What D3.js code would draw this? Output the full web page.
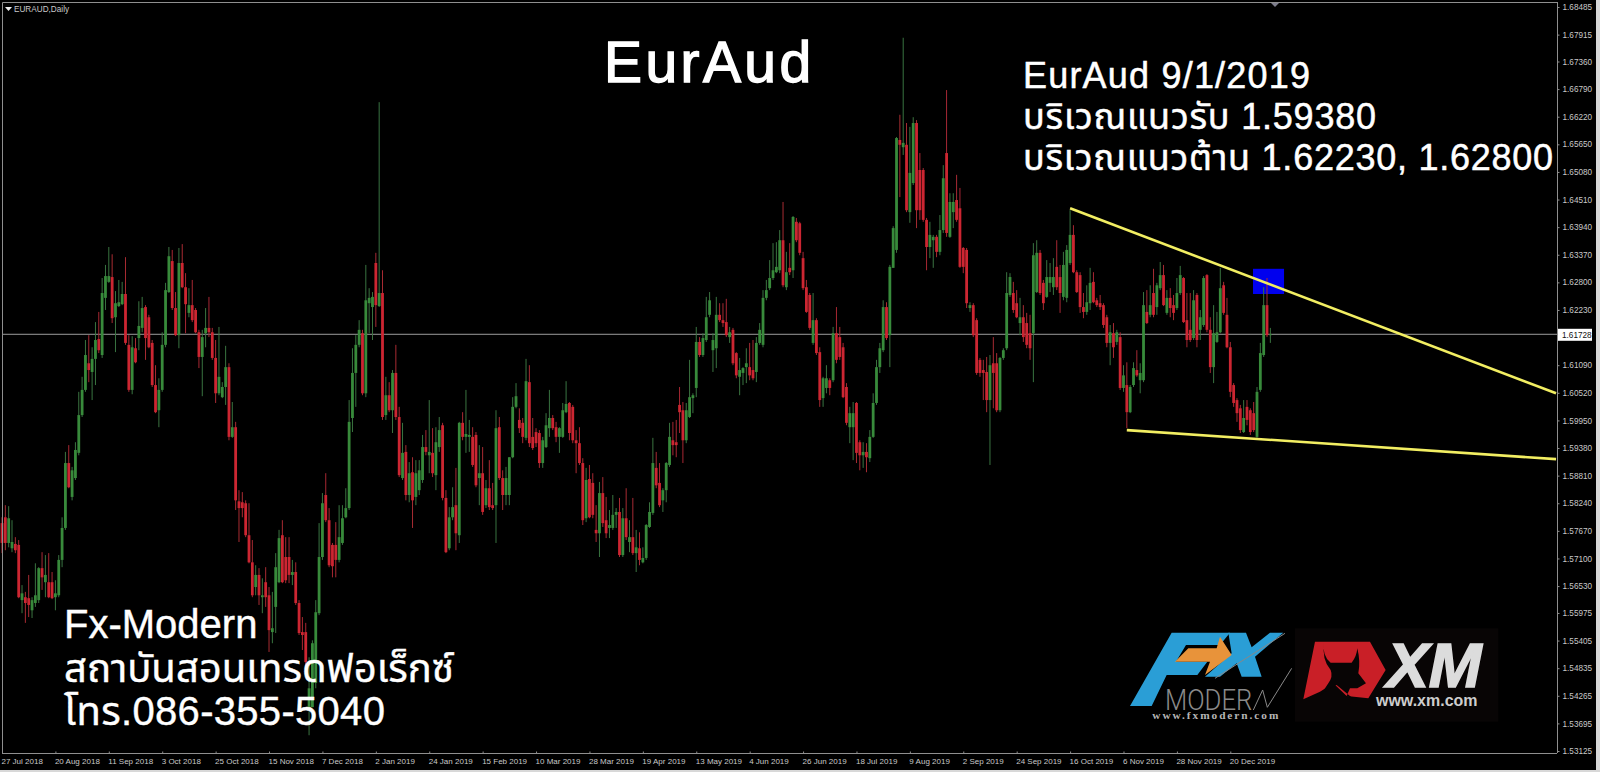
<!DOCTYPE html>
<html><head><meta charset="utf-8">
<script src="https://cdn.jsdelivr.net/npm/d3@7"></script>
<style>
html,body{margin:0;padding:0;background:#000;overflow:hidden}
svg{display:block}
text{font-family:"Liberation Sans",Arial,"Noto Sans Thai","Noto Sans",sans-serif}
</style></head><body>
<svg id="c" width="1600" height="772"></svg>
<script>
// Prices are stored in points of 0.0001
const POINT = 1e-4;
const highPts = [15795,15820,15818,15789,15754,15748,15655,15641,15676,15630,15700,15692,15723,15717,15721,15682,15665,15717,15795,15930,15944,15899,15950,16054,16085,16161,16171,16146,16198,16219,16289,16316,16353,16338,16262,16285,16281,16332,16171,16169,16165,16241,16250,16233,16213,16161,16109,16082,16177,16279,16353,16347,16260,16351,16359,16299,16268,16285,16227,16182,16182,16227,16250,16186,16161,16188,16074,16149,16113,16033,15992,15851,15847,15830,15824,15748,15696,15690,15669,15692,15651,15641,15721,15769,15789,15754,15754,15707,15702,15624,15589,15577,15506,15541,15624,15783,15845,15886,15814,15742,15785,15820,15820,15855,16037,16144,16171,16202,16182,16316,16268,16260,16341,16652,16305,16085,16074,16099,16151,16023,15990,15944,15909,15919,15913,15913,15965,15975,16037,15979,15981,16002,15990,15851,15816,15857,15897,15992,16012,16058,15996,15981,15971,15944,15940,15872,15913,15866,16016,16002,15892,15899,15919,16043,16072,16020,16000,16122,16109,16000,15979,15975,15961,16010,16058,16006,15992,15981,16031,16076,16033,16027,15975,15981,15917,15897,15903,15886,15820,15868,15878,15837,15810,15841,15814,15835,15814,15855,15789,15835,15769,15764,15733,15781,15826,15959,15930,15907,15855,15909,15990,15992,15996,16064,16033,16031,16120,16051,16188,16167,16175,16250,16260,16175,16250,16237,16237,16246,16188,16186,16136,16124,16105,16144,16155,16161,16167,16196,16264,16285,16326,16361,16363,16388,16446,16343,16361,16417,16413,16405,16343,16285,16258,16258,16206,16146,16085,16109,16082,16188,16229,16188,16155,16072,16023,16033,16033,15954,15950,15948,15975,16051,16120,16155,16243,16239,16316,16396,16580,16626,16785,16609,16601,16621,16615,16547,16516,16413,16405,16378,16378,16419,16522,16677,16464,16464,16502,16475,16353,16351,16239,16237,16206,16124,16120,16126,16130,16167,16134,16126,16144,16301,16299,16281,16264,16248,16233,16217,16213,16361,16367,16347,16285,16326,16320,16330,16367,16316,16343,16357,16429,16398,16305,16301,16258,16274,16310,16301,16248,16254,16237,16213,16192,16196,16182,16177,16109,16115,16068,16115,16140,16113,16260,16264,16274,16308,16279,16322,16316,16264,16268,16254,16289,16314,16291,16258,16258,16264,16258,16223,16293,16297,16208,16233,16219,16310,16281,16248,16157,16072,16041,16027,16037,16037,16020,16033,16064,16155,16270,16289,16186];
const lowPts = [15721,15727,15733,15723,15721,15628,15597,15577,15589,15587,15610,15618,15645,15630,15628,15626,15603,15630,15692,15769,15855,15830,15872,15923,16002,16054,16074,16037,16068,16134,16124,16223,16279,16196,16136,16229,16233,16151,16054,16049,16113,16140,16177,16120,16144,16064,16010,15981,16054,16146,16258,16223,16169,16144,16268,16175,16208,16198,16175,16103,16045,16146,16167,16120,16031,16047,16041,16027,15954,15959,15810,15744,15795,15754,15700,15630,15634,15614,15597,15610,15517,15535,15556,15659,15659,15659,15659,15655,15614,15552,15521,15486,15345,15403,15442,15593,15707,15785,15692,15671,15671,15702,15738,15793,15810,15971,16023,16146,16047,16043,16175,16161,16188,16229,15996,15996,16012,15969,15996,15878,15872,15830,15826,15773,15820,15841,15866,15923,15886,15878,15851,15930,15830,15721,15727,15789,15727,15742,15954,15928,15930,15899,15857,15820,15800,15814,15810,15810,15742,15872,15810,15820,15820,15917,16020,15969,15948,15954,15940,15934,15940,15897,15897,15938,15961,15975,15950,15928,15959,16010,15954,15948,15886,15903,15779,15785,15793,15793,15744,15713,15775,15752,15752,15769,15773,15713,15713,15748,15723,15717,15682,15696,15700,15707,15773,15800,15855,15816,15806,15826,15899,15923,15919,15969,15907,15948,16000,16010,16043,16126,16126,16157,16208,16095,16103,16198,16188,16167,16155,16109,16082,16047,16068,16072,16078,16078,16074,16151,16146,16243,16264,16285,16299,16299,16270,16264,16295,16289,16363,16336,16264,16217,16182,16151,16130,16023,16023,16051,16047,16074,16113,16120,16041,15985,15948,15913,15907,15892,15897,15888,15909,15959,16027,16093,16136,16161,16105,16310,16341,16456,16543,16425,16403,16481,16392,16409,16405,16305,16330,16310,16332,16336,16382,16374,16372,16392,16405,16310,16299,16227,16219,16167,16089,16085,16037,16012,15903,16020,16012,16012,16120,16140,16250,16217,16206,16171,16157,16144,16120,16074,16258,16254,16223,16248,16260,16254,16264,16217,16243,16239,16316,16299,16258,16217,16206,16213,16223,16237,16229,16223,16186,16146,16109,16124,16151,16058,16054,15979,16010,16064,16085,16051,16074,16194,16208,16208,16213,16264,16231,16213,16208,16202,16223,16254,16196,16146,16157,16161,16146,16161,16188,16177,16093,16072,16155,16175,16213,16144,16043,16023,15992,15969,15969,15985,15965,15971,15959,16054,16126,16167,16155];
const openPts = [15783,15795,15742,15731,15740,15738,15624,15630,15628,15603,15618,15624,15690,15661,15661,15661,15630,15634,15707,15773,15907,15837,15876,15928,16006,16058,16113,16095,16122,16163,16130,16248,16281,16291,16208,16231,16235,16256,16151,16058,16144,16165,16186,16229,16208,16155,16068,16016,16058,16151,16260,16324,16227,16171,16320,16270,16217,16233,16223,16177,16126,16175,16186,16177,16124,16051,16043,16064,16105,15961,15981,15828,15826,15824,15758,15702,15651,15676,15630,15661,15634,15558,15610,15661,15758,15713,15713,15676,15682,15618,15558,15558,15403,15403,15453,15597,15713,15841,15789,15738,15738,15707,15742,15795,15814,16000,16093,16151,16175,16051,16237,16229,16320,16231,16258,16006,16047,16016,16093,16002,15876,15930,15841,15888,15837,15851,15872,15940,15923,15928,15882,15940,15985,15835,15731,15795,15820,15758,15990,15961,15961,15961,15965,15876,15886,15820,15855,15820,15820,15981,15876,15841,15841,15919,16023,15996,15990,15959,16074,15961,15971,15969,15907,15940,15979,16000,15981,15961,15961,16012,16031,16023,15954,15948,15907,15793,15874,15866,15769,15762,15845,15789,15773,15773,15800,15806,15717,15793,15744,15754,15721,15731,15702,15711,15775,15804,15897,15866,15830,15851,15903,15954,15950,16027,16016,15954,16002,16041,16062,16157,16130,16161,16213,16140,16144,16213,16202,16198,16167,16182,16134,16085,16093,16105,16105,16099,16095,16155,16151,16248,16268,16289,16301,16305,16367,16270,16310,16305,16405,16402,16330,16270,16254,16155,16202,16136,16041,16062,16078,16078,16175,16167,16146,16064,15981,15981,16031,15950,15923,15930,15917,15961,16031,16105,16140,16229,16171,16310,16347,16574,16559,16564,16425,16485,16609,16512,16512,16409,16353,16367,16374,16343,16388,16547,16374,16425,16450,16433,16351,16347,16227,16233,16202,16120,16099,16095,16037,16113,16113,16016,16124,16144,16254,16258,16237,16196,16208,16196,16175,16175,16260,16341,16279,16250,16279,16270,16312,16291,16250,16248,16320,16378,16301,16295,16229,16219,16237,16281,16243,16237,16233,16208,16155,16175,16157,16167,16062,16068,16012,16068,16099,16078,16078,16219,16213,16258,16229,16268,16295,16217,16248,16233,16227,16258,16289,16202,16182,16165,16254,16182,16192,16295,16182,16105,16157,16177,16274,16213,16146,16068,16037,16020,15971,16023,16016,16010,15961,16058,16130,16233,16171];
const closePts = [15742,15742,15793,15744,15727,15630,15638,15618,15614,15624,15634,15690,15671,15676,15630,15628,15638,15707,15773,15907,15857,15892,15934,16006,16058,16130,16099,16122,16161,16140,16258,16293,16293,16206,16237,16239,16256,16155,16058,16146,16115,16190,16227,16165,16146,16068,16012,16058,16151,16264,16334,16227,16171,16320,16270,16235,16233,16202,16177,16126,16167,16186,16177,16124,16051,16085,16064,16105,15961,15981,15830,15814,15814,15758,15702,15634,15676,15634,15634,15630,15562,15566,15692,15752,15661,15665,15676,15682,15618,15556,15552,15496,15442,15535,15599,15713,15824,15789,15696,15694,15707,15754,15793,15814,15992,16093,16151,16182,16051,16243,16248,16250,16233,16258,16002,16047,16016,16093,16002,15882,15928,15841,15886,15830,15886,15892,15940,15930,15930,15886,15950,15975,15835,15723,15795,15816,15762,15990,15961,15967,15965,15903,15861,15886,15806,15855,15816,15814,15979,15876,15841,15876,15919,16023,16045,15979,15961,16076,15948,15938,15948,15907,15954,15985,16000,15979,15961,15979,16016,16029,15969,15954,15948,15907,15789,15872,15795,15800,15762,15845,15783,15762,15779,15800,15806,15717,15793,15754,15754,15721,15733,15707,15711,15779,15806,15907,15861,15820,15851,15907,15961,15944,15944,16012,15954,16016,16043,16047,16157,16130,16165,16208,16243,16161,16213,16202,16196,16171,16177,16113,16088,16099,16103,16113,16088,16082,16155,16182,16248,16264,16289,16305,16312,16367,16274,16301,16301,16415,16367,16341,16268,16219,16186,16202,16134,16037,16082,16082,16062,16175,16120,16126,16043,15990,16010,16010,15928,15923,15930,15919,15961,16031,16105,16144,16229,16165,16312,16392,16578,16564,16568,16429,16506,16609,16429,16429,16409,16353,16378,16374,16343,16388,16495,16382,16446,16446,16409,16312,16312,16237,16233,16171,16093,16093,16093,16037,16109,16093,16016,16124,16140,16258,16291,16223,16208,16208,16167,16151,16144,16336,16341,16258,16237,16291,16291,16291,16270,16258,16316,16347,16378,16301,16260,16229,16219,16239,16279,16239,16233,16229,16192,16155,16177,16146,16177,16062,16088,16012,16064,16103,16088,16093,16233,16196,16233,16213,16274,16295,16233,16248,16227,16217,16258,16295,16198,16161,16161,16243,16161,16208,16289,16182,16105,16175,16177,16268,16217,16146,16054,16031,16010,15975,16000,15996,15971,15975,16054,16134,16233,16171,16173];

const priceTicks = [1.68485,1.67915,1.67360,1.66790,1.66220,1.65650,1.65080,1.64510,1.63940,1.63370,1.62800,1.62230,1.61090,1.60520,1.59950,1.59380,1.58810,1.58240,1.57670,1.57100,1.56530,1.55975,1.55405,1.54835,1.54265,1.53695,1.53125];
const dateLabels = ["27 Jul 2018","20 Aug 2018","11 Sep 2018","3 Oct 2018","25 Oct 2018","15 Nov 2018","7 Dec 2018","2 Jan 2019","24 Jan 2019","15 Feb 2019","10 Mar 2019","28 Mar 2019","19 Apr 2019","13 May 2019","4 Jun 2019","26 Jun 2019","18 Jul 2019","9 Aug 2019","2 Sep 2019","24 Sep 2019","16 Oct 2019","6 Nov 2019","28 Nov 2019","20 Dec 2019"];
const barsPerLabel = 16;
const lastPrice = 1.61728;
const upperTrendIdx = [320,465.6], upperTrendPrice = [1.6433,1.6051];
const lowerTrendIdx = [337,465.6], lowerTrendPrice = [1.5975,1.5915];
const zoneIdx = [374.8,384.1], zonePrice = [1.6308,1.6256];

const n = highPts.length;
const frame = {l:2,t:2,r:1557,b:753};
const x = d3.scaleLinear().domain([0,368]).range([2,1230.3]);
const y = d3.scaleLinear().domain([1.53125,1.68485]).range([751,7]);
const svg = d3.select("#c");
const GREEN="#378a3a", RED="#cc2530", GW="#3a7440", RW="#a82a33";

svg.append("rect").attr("width",1600).attr("height",772).attr("fill","#000");

// resistance zone
svg.append("rect")
  .attr("x",x(zoneIdx[0])).attr("y",y(zonePrice[0]))
  .attr("width",x(zoneIdx[1])-x(zoneIdx[0])).attr("height",y(zonePrice[1])-y(zonePrice[0]))
  .attr("fill","#0000ee");

// current price line
svg.append("line").attr("x1",frame.l).attr("x2",frame.r)
  .attr("y1",y(lastPrice)).attr("y2",y(lastPrice)).attr("stroke","#9c9c9c");

// candles
const bars = d3.range(n);
const isUp = i => closePts[i]>=openPts[i];
const marks = svg.append("g").attr("filter","url(#soft)");
const defs = svg.append("defs");
defs.append("filter").attr("id","soft").append("feGaussianBlur").attr("stdDeviation",0.4);
marks.selectAll("line.w").data(bars).join("line").attr("class","w")
  .attr("x1",i=>x(i)).attr("x2",i=>x(i))
  .attr("y1",i=>y(highPts[i]*POINT)).attr("y2",i=>y(lowPts[i]*POINT))
  .attr("stroke",i=>isUp(i)?GW:RW).attr("stroke-width",1);
marks.selectAll("rect.b").data(bars).join("rect").attr("class","b")
  .attr("x",i=>x(i)-1.4).attr("width",2.8)
  .attr("y",i=>y(Math.max(openPts[i],closePts[i])*POINT))
  .attr("height",i=>Math.max(1,Math.abs(y(openPts[i]*POINT)-y(closePts[i]*POINT))))
  .attr("fill",i=>isUp(i)?GREEN:RED);

// trend lines
const trend = d3.line().x(d=>x(d[0])).y(d=>y(d[1]));
svg.append("path").attr("d",trend(d3.zip(upperTrendIdx,upperTrendPrice)))
  .attr("fill","none").attr("stroke","#f2ee62").attr("stroke-width",2.6);
svg.append("path").attr("d",trend(d3.zip(lowerTrendIdx,lowerTrendPrice)))
  .attr("fill","none").attr("stroke","#f2ee62").attr("stroke-width",2.6);

// frame + axes
const AX="#8f8f8f", TX="#c8c8c8";
svg.append("path").attr("d",`M${frame.l+.5},${frame.b+.5}V${frame.t+.5}H${frame.r+.5}`)
  .attr("fill","none").attr("stroke",AX);
const yAxis = d3.axisRight(y).tickValues(priceTicks).tickSize(2).tickPadding(2).tickFormat(d3.format(".5f"));
const gy = svg.append("g").attr("transform",`translate(${frame.r+.5},0)`).call(yAxis);
gy.select(".domain").attr("stroke",AX).attr("d",`M0,${frame.t}V${frame.b}`);
gy.selectAll("line").attr("stroke",AX);
gy.selectAll("text").attr("fill",TX).attr("font-size",8.2).attr("x",5);

const xAxis = d3.axisBottom(x).tickValues(dateLabels.map((_,i)=>i*barsPerLabel))
  .tickSize(2).tickFormat((_,i)=>dateLabels[i]);
const gx = svg.append("g").attr("transform",`translate(0,${frame.b+.5})`).call(xAxis);
gx.select(".domain").attr("stroke",AX).attr("d",`M${frame.l},0H${frame.r}`);
gx.selectAll("line").attr("stroke",AX).attr("y2",-2);
gx.selectAll("text").attr("fill",TX).attr("font-size",8).attr("text-anchor","start").attr("dx",-1).attr("y",5);

// last price tag
svg.append("rect").attr("x",1558).attr("y",y(lastPrice)-5.5).attr("width",34).attr("height",12).attr("fill","#fff");
svg.append("text").attr("x",1562).attr("y",y(lastPrice)+3.5).attr("font-size",8.2).attr("fill","#111").text(d3.format(".5f")(lastPrice));

// header
svg.append("path").attr("d","M5,7h7l-3.5,4z").attr("fill","#eee");
svg.append("text").attr("x",14).attr("y",12).attr("font-size",8.2).attr("fill","#c8c8c8").text("EURAUD,Daily");
svg.append("path").attr("d","M1271,3h8l-4,4z").attr("fill","#7d7d8c");

// annotations
const note=(t,xp,yp,fs,ls,sw)=>svg.append("text").attr("x",xp).attr("y",yp).attr("font-size",fs)
  .attr("letter-spacing",ls).attr("fill","#fff").attr("stroke","#fff").attr("stroke-width",sw||0).text(t);
note("EurAud",604,82,57,3.4,1.4);
note("EurAud 9/1/2019",1023,88,36,1.2,.5);
note("บริเวณแนวรับ 1.59380",1023,129,36,.8,.5);
note("บริเวณแนวต้าน 1.62230, 1.62800",1023,170,36,.75,.5);
note("Fx-Modern",64,638,40,0,.4);
note("สถาบันสอนเทรดฟอเร็กซ์",64,682,40,0,.4);
note("โทร.086-355-5040",64,725,40,.3,.4);

// logos (drawn in a local coordinate system)
const lg = svg.append("g").attr("transform","translate(1120,620) scale(0.3333)");
lg.append("rect").attr("x",525).attr("y",25).attr("width",610).attr("height",280).attr("fill","#080505");
const BL="#2a9ed6";
lg.append("path").attr("fill",BL).attr("d","M30,258L155,38H330L300,75H198L168,125H262L232,165H140L95,258Z");
lg.append("path").attr("fill",BL).attr("d","M325,38H378L395,82L450,38H490L405,110L425,170H365L350,130L300,170H255L335,100Z");
lg.append("path").attr("fill","#e8933a").attr("d","M165,125L205,85H290L300,50L335,105L255,165L270,125Z");
lg.append("path").attr("stroke","#888").attr("stroke-width",3).attr("fill","none").attr("d","M495,40L285,175");
lg.append("text").attr("x",135).attr("y",270).attr("font-size",88).attr("font-weight",300).attr("fill","#8a8a8a")
  .style("font-family","Roboto,'Liberation Sans',sans-serif")
  .attr("textLength",262).attr("lengthAdjust","spacingAndGlyphs").text("MODER");
lg.append("path").attr("stroke","#8a8a8a").attr("stroke-width",3).attr("fill","none").attr("d","M400,270L428,210L442,262L515,145");
lg.append("text").attr("x",97).attr("y",296).attr("font-size",34).attr("font-weight","bold").attr("fill","#b5b5b5")
  .style("font-family","'Liberation Serif',serif").attr("textLength",378).text("www.fxmodern.com");
lg.append("path").attr("fill","#c91f27").attr("d","M585,65H750L797,150L745,235L680,228L640,190L600,215L550,238Z");
lg.append("path").attr("fill","#080505").attr("d","M612,66Q606,108 632,128L695,128Q710,110 712,85Q722,125 715,160L738,190L712,205L690,205L680,228L700,236L650,195Q625,205 600,228L625,190Q640,170 632,150Q605,120 612,66Z");
lg.append("text").attr("x",800).attr("y",200).attr("font-size",190).attr("font-weight","bold").attr("font-style","italic")
  .attr("fill","#dcdcdc").attr("stroke","#dcdcdc").attr("stroke-width",5).text("XM");
lg.append("text").attr("x",768).attr("y",257).attr("font-size",48).attr("font-weight","bold").attr("fill","#cdcdcd").text("www.xm.com");

// image edge
svg.append("rect").attr("x",1596).attr("y",0).attr("width",4).attr("height",772).attr("fill","#d8d8d8");
svg.append("rect").attr("x",0).attr("y",770).attr("width",1600).attr("height",2).attr("fill","#d8d8d8");
</script>
</body></html>
